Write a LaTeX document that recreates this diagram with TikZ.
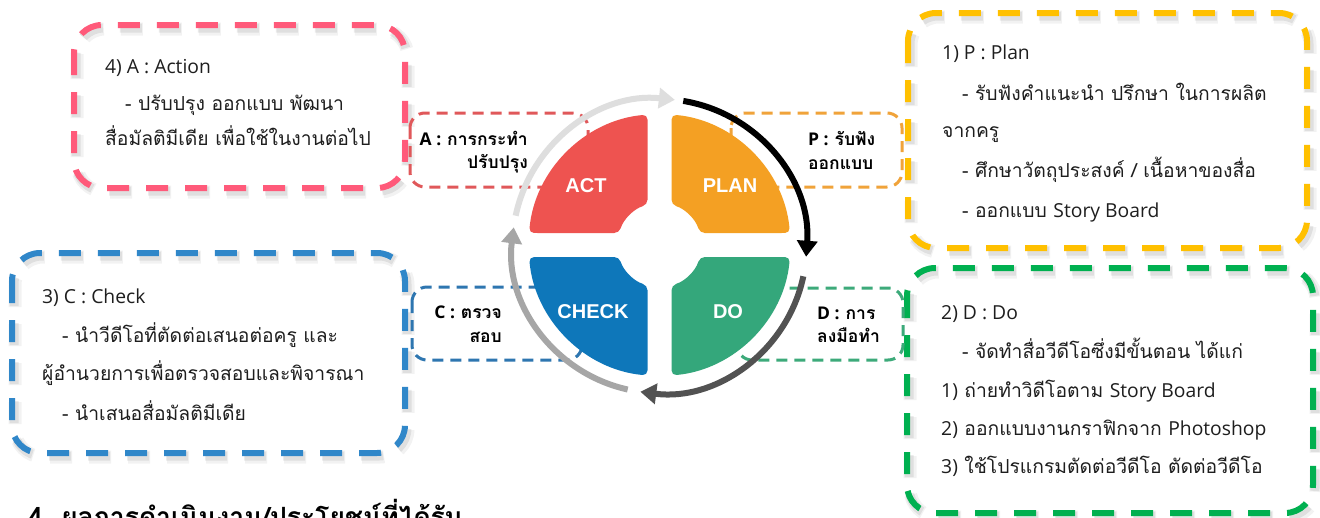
\documentclass[tikz,border=0pt]{standalone}
\usepackage{fontspec}
\setmainfont[Script=Thai]{Loma}
\newfontfamily\labfont{Liberation Sans}
\newfontfamily\lat{Open Sans}
\usetikzlibrary{arrows.meta,calc}
\definecolor{pinkc}{HTML}{FF5A7A}
\definecolor{yellowc}{HTML}{FFC000}
\definecolor{bluec}{HTML}{3087C9}
\definecolor{greenc}{HTML}{00B050}
\definecolor{actc}{HTML}{EE5350}
\definecolor{planc}{HTML}{F4A023}
\definecolor{doc}{HTML}{34A77B}
\definecolor{checkc}{HTML}{0E77BA}
\definecolor{sredc}{HTML}{E0585A}
\definecolor{sorangec}{HTML}{F0A33A}
\definecolor{sbluec}{HTML}{2E76B0}
\definecolor{sgreenc}{HTML}{3DAA7A}
\definecolor{txtc}{HTML}{1E1E1E}
\begin{document}
\begin{tikzpicture}[x=1pt,y=-1pt,
  bigbox/.style={line width=6pt, dash pattern=on 22pt off 17pt, rounded corners=28pt},
  bigshadowA/.style={line width=13pt, dash pattern=on 22pt off 17pt, rounded corners=28pt, black, opacity=0.05},
  bigshadowB/.style={line width=9pt, dash pattern=on 22pt off 17pt, rounded corners=28pt, black, opacity=0.08},
  smallbox/.style={line width=3pt, dash pattern=on 11pt off 7pt, rounded corners=15pt},
  bodytxt/.style={anchor=base west, inner sep=0pt, font=\fontsize{19.3}{21}\selectfont, text=txtc},
  smalltxt/.style={inner sep=0pt, font=\fontsize{17.5}{19}\selectfont\bfseries, text=black},
  quadlab/.style={inner sep=0pt, text=white, font=\labfont\bfseries\fontsize{20}{22}\selectfont},
  quad/.style={rounded corners=5pt},
  ring/.style={line width=6pt},
  ringtip/.style={-{Triangle[width=20pt,length=16pt]}}
]
\clip (0,0) rectangle (1320,517);
\fill[white] (0,0) rectangle (1320,517);

% ---- big boxes: shadows ----
\draw[bigshadowA] (77,29) rectangle (408,192);
\draw[bigshadowA] (911,17) rectangle (1310,252);
\draw[bigshadowA] (15,257) rectangle (408,457);
\draw[bigshadowA] (910,272) rectangle (1316,517);
\draw[bigshadowB] (76,28) rectangle (407,191);
\draw[bigshadowB] (910,16) rectangle (1309,251);
\draw[bigshadowB] (14,256) rectangle (407,456);
\draw[bigshadowB] (909,271) rectangle (1315,516);

% ---- big boxes ----
\draw[bigbox, pinkc] (74,25) rectangle (405,188);
\draw[bigbox, yellowc] (908,13) rectangle (1307,248);
\draw[bigbox, bluec] (12,253) rectangle (405,453);
\draw[bigbox, greenc] (907,268) rectangle (1313,513);

% ---- big box texts ----
\node[bodytxt] (a1) at (105,73) {\lat 4) A : Action};
\node[bodytxt] (a2) at (125,110) {- ปรับปรุง ออกแบบ พัฒนา};
\node[bodytxt] (a3) at (105,145) {สื่อมัลติมีเดีย เพื่อใช้ในงานต่อไป};

\node[bodytxt] (p1) at (942,59) {\lat 1) P : Plan};
\node[bodytxt] (p2) at (962,100) {- รับฟังคำแนะนำ ปรึกษา ในการผลิต};
\node[bodytxt] (p3) at (942,137) {จากครู};
\node[bodytxt] (p4) at (962,177) {- ศึกษาวัตถุประสงค์ / เนื้อหาของสื่อ};
\node[bodytxt] (p5) at (962,217) {- ออกแบบ {\lat Story Board}};

\node[bodytxt] (c1) at (42,303) {\lat 3) C : Check};
\node[bodytxt] (c2) at (62,342) {- นำวีดีโอที่ตัดต่อเสนอต่อครู และ};
\node[bodytxt] (c3) at (42,380) {ผู้อำนวยการเพื่อตรวจสอบและพิจารณา};
\node[bodytxt] (c4) at (62,420) {- นำเสนอสื่อมัลติมีเดีย};

\node[bodytxt] (d1) at (941,319) {\lat 2) D : Do};
\node[bodytxt] (d2) at (962,358) {- จัดทำสื่อวีดีโอซึ่งมีขั้นตอน ได้แก่};
\node[bodytxt] (d3) at (941,397) {{\lat 1)} ถ่ายทำวิดีโอตาม {\lat Story Board}};
\node[bodytxt] (d4) at (941,435) {{\lat 2)} ออกแบบงานกราฟิกจาก {\lat Photoshop}};
\node[bodytxt] (d5) at (941,473) {{\lat 3)} ใช้โปรแกรมตัดต่อวีดีโอ ตัดต่อวีดีโอ};

% ---- small dashed boxes (behind quadrants) ----
\draw[smallbox, sredc] (410,113) rectangle (588,187);
\draw[smallbox, sorangec] (731,113) rectangle (902,187);
\draw[smallbox, sbluec] (412,287) rectangle (582,360);
\draw[smallbox, sgreenc] (737,288) rectangle (903,360);

\node[smalltxt, anchor=base east] (sa1) at (528,145) {{\lat A :} การกระทำ};
\node[smalltxt, anchor=base east] (sa2) at (528,168) {ปรับปรุง};
\node[smalltxt, anchor=base west] (sp1) at (808,145) {{\lat P :} รับฟัง};
\node[smalltxt, anchor=base west] (sp2) at (808,169) {ออกแบบ};
\node[smalltxt, anchor=base east] (sc1) at (502,318) {{\lat C :} ตรวจ};
\node[smalltxt, anchor=base east] (sc2) at (502,342) {สอบ};
\node[smalltxt, anchor=base west] (sd1) at (817,319) {{\lat D :} การ};
\node[smalltxt, anchor=base west] (sd2) at (817,342) {ลงมือทำ};

% ---- quadrants ----
\coordinate (C) at (659.5,245);
\coordinate (R) at (659.5,246);
\fill[actc, quad] ($(C)+(185.26:131)$) arc[start angle=185.26,end angle=264.74,radius=131]
  -- ($(C)+(253.4:42)$) arc[start angle=253.4,end angle=196.6,radius=42] -- cycle;
\fill[planc, quad] ($(C)+(275.26:131)$) arc[start angle=275.26,end angle=354.74,radius=131]
  -- ($(C)+(343.4:42)$) arc[start angle=343.4,end angle=286.6,radius=42] -- cycle;
\fill[doc, quad] ($(C)+(5.26:131)$) arc[start angle=5.26,end angle=84.74,radius=131]
  -- ($(C)+(73.4:42)$) arc[start angle=73.4,end angle=16.6,radius=42] -- cycle;
\fill[checkc, quad] ($(C)+(95.26:131)$) arc[start angle=95.26,end angle=174.74,radius=131]
  -- ($(C)+(163.4:42)$) arc[start angle=163.4,end angle=106.6,radius=42] -- cycle;

\node[quadlab] (act) at (586,186) {ACT};
\node[quadlab] (plan) at (730,186) {PLAN};
\node[quadlab] (check) at (593,312) {CHECK};
\node[quadlab] (do) at (728,312) {DO};

% ---- ring arrows ----
\draw[ring, ringtip, black] ($(R)+(-80.7:147)$) arc[start angle=-80.7,end angle=4.2,radius=147];
\draw[ring, ringtip, black!68] ($(R)+(11.9:147)$) arc[start angle=11.9,end angle=97.5,radius=147];
\draw[ring, ringtip, black!35] ($(R)+(102.5:147)$) arc[start angle=102.5,end angle=187.3,radius=147];
\draw[ring, ringtip, black!13] ($(R)+(191.9:147)$) arc[start angle=191.9,end angle=276,radius=147];

% ---- heading at bottom (cut off by the page edge, as in the reference) ----
\node[anchor=base west, inner sep=0pt, font=\fontsize{26.5}{28}\selectfont\bfseries] (head) at (28,526) {4. ผลการดำเนินงาน/ประโยชน์ที่ได้รับ};
\end{tikzpicture}
\end{document}
